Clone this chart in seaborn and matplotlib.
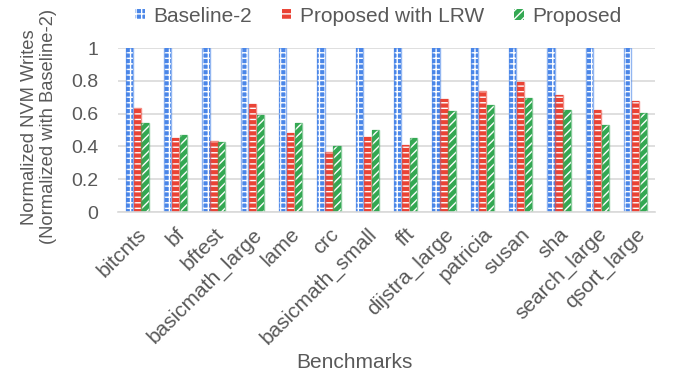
import matplotlib
matplotlib.use("Agg")
import matplotlib.pyplot as plt
from matplotlib.patches import Patch
import seaborn as sns
import pandas as pd

categories = ["bitcnts", "bf", "bftest", "basicmath_large", "lame", "crc",
              "basicmath_small", "fft", "dijstra_large", "patricia", "susan",
              "sha", "search_large", "qsort_large"]
baseline2 = [1, 1, 1, 1, 1, 1, 1, 1, 1, 1, 1, 1, 1, 1]
proposed_lrw = [0.633, 0.449, 0.435, 0.657, 0.484, 0.369, 0.459,
                0.410, 0.688, 0.737, 0.794, 0.712, 0.620, 0.680]
proposed = [0.541, 0.467, 0.424, 0.590, 0.541, 0.400, 0.500,
            0.449, 0.614, 0.655, 0.694, 0.620, 0.533, 0.606]
series_names = ["Baseline-2", "Proposed with LRW", "Proposed"]
yticks = [0, 0.2, 0.4, 0.6, 0.8, 1]
ytick_labels = ["0", "0.2", "0.4", "0.6", "0.8", "1"]

colors = ["#4a86e8", "#ea4335", "#34a853"]
text_color = "#595959"

sns.set_theme(style="white")
plt.rcParams["font.family"] = ["Liberation Sans", "DejaVu Sans"]
plt.rcParams["hatch.linewidth"] = 1.0

rows = []
for name, vals in zip(series_names, [baseline2, proposed_lrw, proposed]):
    for c, v in zip(categories, vals):
        rows.append({"Benchmark": c, "Series": name, "Value": v})
df = pd.DataFrame(rows)

fig = plt.figure(figsize=(6.84, 3.78), dpi=100)
ax = fig.add_axes([0.1725, 0.439, 0.785, 0.434])

sns.barplot(data=df, x="Benchmark", y="Value", hue="Series",
            hue_order=series_names, order=categories, palette=colors,
            width=0.62, gap=0.08, legend=False, ax=ax, errorbar=None)

n = len(categories)
styles = [
    dict(face=colors[0], hatch_color="white", hatch="+++"),
    dict(face=colors[1], hatch_color="white", hatch="---"),
    dict(face=colors[2], hatch_color="white", hatch="////"),
]
bars = [p for p in ax.patches]
for i, p in enumerate(bars):
    s = styles[i // n]
    p.set_facecolor(s["face"])
    p.set_edgecolor(s["hatch_color"])
    p.set_hatch(s["hatch"])
    p.set_linewidth(0)
    x, y = p.get_xy()
    ax.add_patch(plt.Rectangle((x, y), p.get_width(), p.get_height(),
                               fill=False, edgecolor=colors[i // n],
                               linewidth=1.0, alpha=0.6, zorder=p.get_zorder() + 0.1))

ax.set_ylim(0, 1.0)
ax.set_xlim(-0.5, n - 0.5)
ax.set_yticks(yticks)
ax.set_yticklabels(ytick_labels)
ax.yaxis.grid(True, color="#d9d9d9", linewidth=1.2)
ax.set_axisbelow(True)
for side in ["top", "right", "left"]:
    ax.spines[side].set_visible(False)
ax.spines["bottom"].set_color("#d9d9d9")
ax.spines["bottom"].set_linewidth(1.2)
ax.tick_params(axis="both", length=0, colors=text_color)
ax.tick_params(axis="y", pad=14, labelsize=14)
ax.tick_params(axis="x", pad=9, labelsize=15)
plt.setp(ax.get_xticklabels(), rotation=45, ha="right", rotation_mode="anchor")
ax.set_xlabel("Benchmarks", fontsize=15, color=text_color)
ax.xaxis.set_label_coords(0.441, -0.86)
ax.set_ylabel("Normalized NVM Writes\n(Normalized with Baseline-2)",
              fontsize=13.2, color=text_color, linespacing=1.1)
ax.yaxis.set_label_coords(-0.114, 0.52)

handles = []
for i, s in enumerate(styles):
    handles.append(Patch(facecolor=s["face"], edgecolor=s["hatch_color"],
                         hatch=s["hatch"], linewidth=0))
leg = fig.legend(handles, series_names, loc="center", ncol=3,
                 bbox_to_anchor=(0.553, 0.957), frameon=False, fontsize=15,
                 handlelength=0.45, handleheight=0.45, handletextpad=0.4,
                 columnspacing=1.45, borderpad=0, borderaxespad=0)
for t in leg.get_texts():
    t.set_color(text_color)

fig.savefig("out.png", dpi=100)
